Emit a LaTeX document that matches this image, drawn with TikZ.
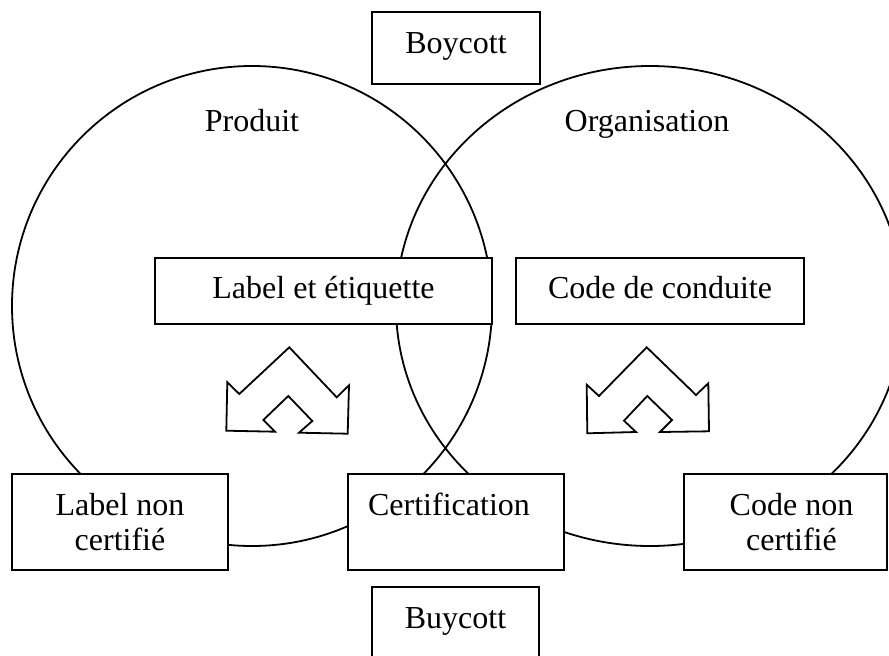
\documentclass[tikz,border=0pt]{standalone}
\usepackage{fontspec}
\setmainfont{Liberation Serif}
\begin{document}
\begin{tikzpicture}[x=1pt,y=-1pt,
  ln/.style={line width=1.8pt},
  boxnode/.style={draw,ln,fill=white,inner sep=0pt,align=center,
    font=\fontsize{32}{35}\selectfont},
  oneline/.style={text height=22pt,text depth=7pt},
  topline/.style={text height=22pt,text depth=11pt},
  lbl/.style={font=\fontsize{32}{35}\selectfont,anchor=base,inner sep=0pt},
  arrowshape/.style={draw,ln,fill=white,line join=miter}]
\clip (0,0) rectangle (889,656);
% circles
\draw[ln] (252,306) circle [radius=240pt];
\draw[ln] (650,306) ellipse [x radius=254pt, y radius=240pt];
% labels of circles
\node[lbl] (produit) at (252,131) {Produit};
\node[lbl] (orga) at (647,131) {Organisation};
% boxes
\node[boxnode,topline,minimum width=168pt,minimum height=72pt] (boycott) at (456,48) {Boycott};
\node[boxnode,topline,minimum width=167pt,minimum height=72pt] (buycott) at (455.5,623) {Buycott};
\node[boxnode,oneline,minimum width=337pt,minimum height=66pt] (labelet) at (323.5,291) {Label et étiquette};
\node[boxnode,oneline,minimum width=288pt,minimum height=66pt] (code) at (660,291) {Code de conduite};
\node[boxnode,minimum width=216pt,minimum height=96pt] (lnc) at (120,522) {Label non\\certifié};
\node[boxnode,minimum width=216pt,minimum height=96pt] (cert) at (456,522) {Certification\hspace*{14pt}\\\phantom{certifié}};
\node[boxnode,minimum width=203pt,minimum height=96pt] (cnc) at (785.5,522) {\hspace*{12pt}Code non\\\hspace*{12pt}certifié};
% double arrows
\draw[arrowshape] (289.3,347.3) -- (239.3,394) -- (227.3,382.3) -- (226.3,430.7)
  -- (275,431.7) -- (263.3,420) -- (288.3,396) -- (312.3,421) -- (299,432.7)
  -- (347.7,433.7) -- (349,385.3) -- (336.7,397.3) -- cycle;
\draw[arrowshape] (646.7,347.3) -- (599,396) -- (586.7,384.7) -- (587.3,433.3)
  -- (636,432) -- (624,420.7) -- (647.3,396) -- (672,420) -- (660,432)
  -- (709,431.3) -- (708.3,383.3) -- (696,395) -- cycle;
\end{tikzpicture}
\end{document}
